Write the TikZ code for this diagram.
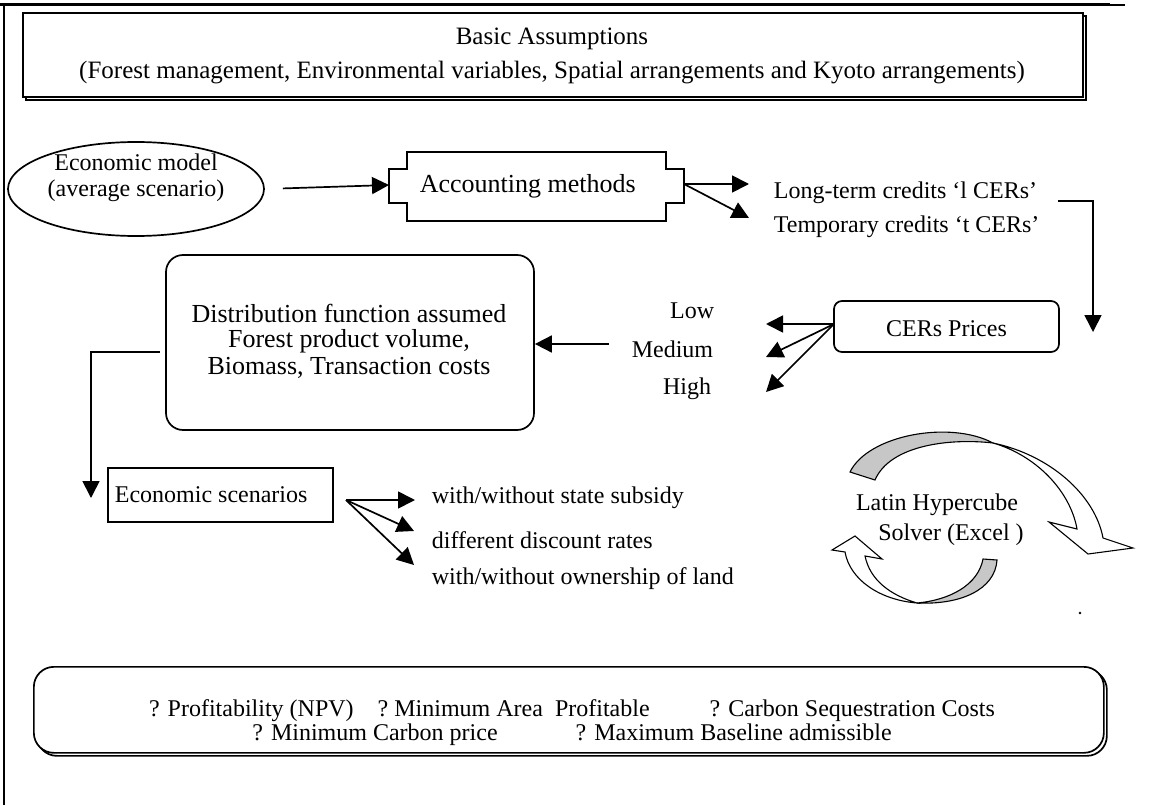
\documentclass[tikz,border=0pt]{standalone}
\usepackage{fontspec}
\setmainfont{Liberation Serif}
\usetikzlibrary{arrows.meta,shapes.geometric,calc}
\begin{document}
\begin{tikzpicture}[x=1pt,y=-1pt,
  line width=1.7pt,
  arr/.style={-{Triangle[length=17pt,width=17pt]}, line width=1.7pt},
  txt/.style={font=\fontsize{24}{27}\selectfont, inner sep=0pt},
  bigtxt/.style={font=\fontsize{26}{27}\selectfont, inner sep=0pt},
  plainbox/.style={draw, line width=1.7pt, inner sep=0pt, fill=white},
  shadowbox/.style={draw, line width=1.7pt, inner sep=0pt}]
\useasboundingbox (0,0) rectangle (1155,805);
\fill[white] (0,0) rectangle (1155,805);
% frame
\draw[line width=3pt] (0,5) -- (1110,5);
\draw[line width=1.5pt] (1110,5) -- (1125,5);
\draw[line width=1.7pt] (4,5) -- (4,805);
% top box
\node[shadowbox, minimum width=1060pt, minimum height=84pt, anchor=north west] (topsh) at (25,15) {};
\node[plainbox, minimum width=1060pt, minimum height=84pt, anchor=north west] (top) at (22,12) {};
\node[txt, anchor=base, font=\fontsize{25}{27}\selectfont] (basic) at (552,45) {Basic Assumptions};
\node[txt, anchor=base, font=\fontsize{25}{27}\selectfont] (forest) at (552,79) {(Forest management, Environmental variables, Spatial arrangements and Kyoto arrangements)};
% ellipse
\node[draw, ellipse, line width=1.7pt, minimum width=256pt, minimum height=94pt, inner sep=0pt] (eco) at (136,189) {};
\node[txt, anchor=base] (eco1) at (136,171) {Economic model};
\node[txt, anchor=base] (eco2) at (136,196) {(average scenario)};
% accounting
\draw (407,152) -- (666,152) -- (666,169) -- (684,169) -- (684,203) -- (666,203) -- (666,221) -- (407,221) -- (407,203) -- (389,203) -- (389,169) -- (407,169) -- cycle;
\coordinate (accL) at (389,185);
\coordinate (accR) at (684,184);
\node[txt, anchor=base west, font=\fontsize{26}{27}\selectfont] (acc) at (419,192) {Accounting methods};
\draw[arr, shorten <=18pt] (eco.east) -- (accL);
% credits
\coordinate (t1) at (749,184);
\coordinate (t2) at (749,218);
\draw[arr] (accR) -- (t1);
\draw[arr] (accR) -- (t2);
\node[txt, anchor=base west] (lt) at (773,198) {Long-term credits ‘l CERs’};
\node[txt, anchor=base west] (tc) at (773,232) {Temporary credits ‘t CERs’};
\coordinate (c1) at (1058,201);
\coordinate (c2) at (1093,332);
\draw[arr] (c1) -| (c2);
% CERs prices
\node[plainbox, rounded corners=8pt, minimum width=225pt, minimum height=51pt] (cers) at (946.5,326.5) {};
\node[txt, anchor=base] (cerst) at (946.5,336) {CERs Prices};
\coordinate (cw) at (834,324);
\coordinate (pl) at (766,324);
\coordinate (pm) at (766,357);
\coordinate (ph) at (766,392);
\draw[arr] (cw) -- (pl);
\draw[arr] (cw) -- (pm);
\draw[arr] (cw) -- (ph);
\node[txt, anchor=base east] (low) at (715,318) {Low};
\node[txt, anchor=base east] (med) at (714,357) {Medium};
\node[txt, anchor=base east] (high) at (712,394) {High};
% distribution
\node[plainbox, rounded corners=17pt, minimum width=368pt, minimum height=175pt] (dist) at (350,342.5) {};
\node[bigtxt, anchor=base] (d1t) at (349,322) {Distribution function assumed};
\node[bigtxt, anchor=base] (d2t) at (349,347) {Forest product volume,};
\node[bigtxt, anchor=base] (d3t) at (349,374) {Biomass, Transaction costs};
\coordinate (m0) at (609,344);
\draw[arr] (m0) -- (dist.east |- m0);
\coordinate (dd1) at (160,352);
\coordinate (dd2) at (91,498);
\draw[arr] (dd1) -| (dd2);
% economic scenarios
\node[plainbox, minimum width=225pt, minimum height=54pt] (escen) at (220.5,495) {};
\node[txt, anchor=base west] (escent) at (114,502) {Economic scenarios};
\coordinate (eo) at (346,500);
\coordinate (e1) at (415,500);
\coordinate (e2) at (414,531);
\coordinate (e3) at (414,565);
\draw[arr] (eo) -- (e1);
\draw[arr] (eo) -- (e2);
\draw[arr] (eo) -- (e3);
\node[txt, anchor=base west] (s1) at (431,503) {with/without state subsidy};
\node[txt, anchor=base west] (s2) at (431,548) {different discount rates};
\node[txt, anchor=base west] (s3) at (431,584) {with/without ownership of land};
% circular arrows
\filldraw[fill=black!22, line width=1.1pt] (850,472) .. controls (868,435) and (950,420) .. (993,443) .. controls (950,438) and (890,445) .. (875,480) -- cycle;
\filldraw[fill=white, line width=1.1pt] (993,443) .. controls (1035,455) and (1070,490) .. (1077,529) -- (1049,522) -- (1088,554) -- (1133,548) -- (1103,538) .. controls (1095,495) and (1050,455) .. (993,443) -- cycle;
\filldraw[fill=black!22, line width=1.1pt] (983,559) -- (997,560) .. controls (995,590) and (960,605) .. (917,603) .. controls (950,600) and (978,585) .. (983,559) -- cycle;
\filldraw[fill=white, line width=1.1pt] (917,603) .. controls (880,600) and (850,580) .. (845,552) -- (832,550) -- (855,536) -- (882,559) -- (865,556) .. controls (870,580) and (890,595) .. (917,603) -- cycle;
\node[txt, anchor=base] (lh1) at (937,510) {Latin Hypercube};
\node[txt, anchor=base] (lh2) at (951,540) {Solver (Excel )};
\fill (1080,613) circle (1.3pt);
% bottom box
\node[shadowbox, rounded corners=20pt, minimum width=1070pt, minimum height=86pt, anchor=north west] (ressh) at (36,669) {};
\node[plainbox, rounded corners=20pt, minimum width=1070pt, minimum height=86pt, anchor=north west] (res) at (33,666) {};
\node[txt, anchor=base] (r1) at (572,716) {? Profitability (NPV)\hspace{24pt}? Minimum Area\hspace{12pt}Profitable\hspace{60pt}? Carbon Sequestration Costs};
\node[txt, anchor=base] (r2) at (572,740) {? Minimum Carbon price\hspace{78pt}? Maximum Baseline admissible};
\end{tikzpicture}
\end{document}
